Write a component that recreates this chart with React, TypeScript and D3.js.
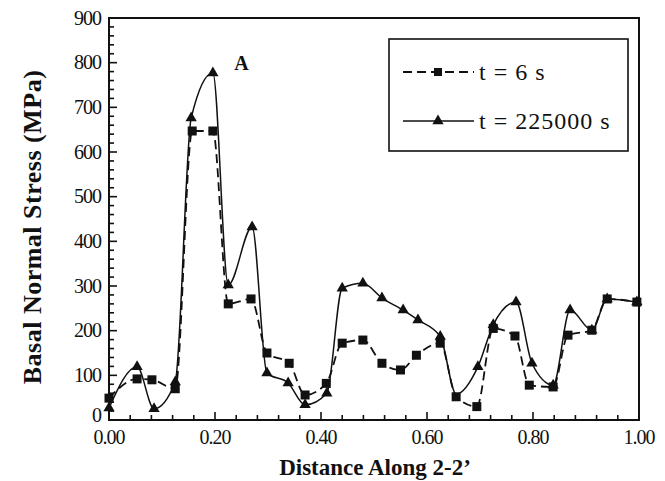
import { useRef, useEffect } from "react";
import * as d3 from "d3";

// t = 6 s (squares, dashed)
const xsShort = [0, 0.053, 0.081, 0.125, 0.157, 0.196, 0.225, 0.268, 0.298, 0.34, 0.37, 0.41, 0.44, 0.479, 0.515, 0.55, 0.58, 0.625, 0.655, 0.694, 0.725, 0.766, 0.793, 0.838, 0.866, 0.911, 0.94, 0.996];
const ysShort = [49, 92, 90, 70, 647, 647, 260, 271, 150, 127, 56, 82, 172, 179, 127, 112, 145, 172, 52, 30, 205, 188, 78, 74, 190, 201, 271, 264];

// t = 225000 s (triangles, solid)
const xsLong = [0, 0.053, 0.085, 0.125, 0.155, 0.196, 0.225, 0.27, 0.298, 0.338, 0.37, 0.411, 0.44, 0.479, 0.515, 0.555, 0.583, 0.625, 0.655, 0.696, 0.725, 0.768, 0.798, 0.838, 0.87, 0.911, 0.94, 0.996];
const ysLong = [27, 119, 25, 85, 676, 777, 302, 432, 105, 83, 34, 60, 295, 306, 273, 246, 224, 187, 58, 119, 213, 264, 127, 78, 246, 201, 271, 264];
const markLong = xsLong.map((_, i) => i !== 18); // triangle hidden under square at 0.655

const xTicks = [0, 0.2, 0.4, 0.6, 0.8, 1.0];
const yTicks = [0, 100, 200, 300, 400, 500, 600, 700, 800, 900];

const FONT = "Liberation Serif, DejaVu Serif, serif";

export default function App() {
  const svgRef = useRef<SVGSVGElement>(null);

  useEffect(() => {
    document.body.style.margin = "0";
    const W = 665, H = 481;
    const m = { top: 18, right: 26, bottom: 61, left: 109 };
    const w = W - m.left - m.right;
    const h = H - m.top - m.bottom;

    const root = d3.select(svgRef.current).attr("width", W).attr("height", H);
    root.selectAll("*").remove();
    root.append("rect").attr("width", W).attr("height", H).attr("fill", "#fff");
    const svg = root.append("g").attr("transform", `translate(${m.left},${m.top})`);

    const x = d3.scaleLinear().domain([0, 1]).range([0, w]);
    const y = d3.scaleLinear().domain([0, 900]).range([h, 0]);

    // minor + major ticks, pointing inside
    d3.range(0, 1.0001, 0.04).forEach((t) => {
      const major = xTicks.some((v) => Math.abs(v - t) < 1e-6);
      svg.append("line").attr("x1", x(t)).attr("x2", x(t))
        .attr("y1", h).attr("y2", h - (major ? 8 : 5))
        .attr("stroke", "#111").attr("stroke-width", 1.6);
    });
    d3.range(0, 901, 20).forEach((t) => {
      const major = t % 100 === 0;
      svg.append("line").attr("x1", 0).attr("x2", major ? 8 : 5)
        .attr("y1", y(t)).attr("y2", y(t))
        .attr("stroke", "#111").attr("stroke-width", 1.6);
    });

    svg.append("g")
      .selectAll("text")
      .data(xTicks)
      .join("text")
      .attr("x", (d) => x(d))
      .attr("y", h + 24)
      .attr("text-anchor", "middle")
      .style("font-family", FONT)
      .attr("font-size", 20)
      .attr("letter-spacing", -1)
      .attr("fill", "#111")
      .text((d) => d.toFixed(2));

    svg.append("g")
      .selectAll("text")
      .data(yTicks)
      .join("text")
      .attr("x", -8)
      .attr("y", (d) => y(d) - (d === 0 ? 5 : 0))
      .attr("dy", "0.33em")
      .attr("text-anchor", "end")
      .style("font-family", FONT)
      .attr("font-size", 20)
      .attr("letter-spacing", -1)
      .attr("fill", "#111")
      .text((d) => d);

    const short = xsShort.map((v, i) => ({ x: v, y: ysShort[i] }));
    const long = xsLong.map((v, i) => ({ x: v, y: ysLong[i], mark: markLong[i] }));

    const lineGen = d3.line<{ x: number; y: number }>()
      .x((d) => x(d.x)).y((d) => y(d.y))
      .curve(d3.curveMonotoneX);

    svg.append("path").datum(long).attr("d", lineGen)
      .attr("fill", "none").attr("stroke", "#111").attr("stroke-width", 1.5);
    svg.append("path").datum(short).attr("d", lineGen)
      .attr("fill", "none").attr("stroke", "#111").attr("stroke-width", 1.8)
      .attr("stroke-dasharray", "9,5");

    const tri = d3.symbol().type(d3.symbolTriangle).size(55);
    svg.append("g").selectAll("path")
      .data(long.filter((d) => d.mark))
      .join("path")
      .attr("d", tri)
      .attr("transform", (d) => `translate(${x(d.x)},${y(d.y)})`)
      .attr("fill", "#111");

    svg.append("g").selectAll("rect")
      .data(short)
      .join("rect")
      .attr("x", (d) => x(d.x) - 4.5)
      .attr("y", (d) => y(d.y) - 4.5)
      .attr("width", 9).attr("height", 9)
      .attr("fill", "#111");

    // frame
    svg.append("rect").attr("width", w).attr("height", h)
      .attr("fill", "none").attr("stroke", "#111").attr("stroke-width", 2);

    svg.append("text")
      .attr("x", x(0.25)).attr("y", y(800))
      .attr("dy", "0.35em")
      .attr("text-anchor", "middle")
      .style("font-family", FONT).attr("font-weight", "bold").attr("font-size", 20)
      .attr("fill", "#111")
      .text("A");

    // legend
    const lg = root.append("g");
    lg.append("rect").attr("x", 389).attr("y", 39).attr("width", 239).attr("height", 112)
      .attr("fill", "#fff").attr("stroke", "#111").attr("stroke-width", 1.6);
    const entries = [
      { label: "t = 6 s", dash: "9,5", cy: 72, sym: "sq" },
      { label: "t = 225000 s", dash: null, cy: 121, sym: "tri" },
    ];
    entries.forEach((e) => {
      lg.append("line").attr("x1", 403).attr("x2", 474).attr("y1", e.cy).attr("y2", e.cy)
        .attr("stroke", "#111").attr("stroke-width", e.dash ? 1.8 : 1.5)
        .attr("stroke-dasharray", e.dash);
      if (e.sym === "sq") {
        lg.append("rect").attr("x", 434).attr("y", e.cy - 4).attr("width", 8).attr("height", 8).attr("fill", "#111");
      } else {
        lg.append("path").attr("d", tri).attr("transform", `translate(438,${e.cy})`).attr("fill", "#111");
      }
      lg.append("text").attr("x", 479).attr("y", e.cy).attr("dy", "0.35em")
        .style("font-family", FONT).attr("font-size", 24)
        .attr("letter-spacing", 1).attr("fill", "#111")
        .text(e.label);
    });

    // axis titles
    root.append("text")
      .attr("x", m.left + w / 2 + 1).attr("y", 475)
      .attr("text-anchor", "middle")
      .style("font-family", FONT).attr("font-weight", "bold").attr("font-size", 23)
      .attr("fill", "#111")
      .text("Distance Along 2-2\u2019");

    root.append("text")
      .attr("transform", `translate(41,227) rotate(-90)`)
      .attr("text-anchor", "middle")
      .style("font-family", FONT).attr("font-weight", "bold").attr("font-size", 26)
      .attr("letter-spacing", 0.5)
      .attr("fill", "#111")
      .text("Basal Normal Stress (MPa)");
  }, []);

  return <svg ref={svgRef} style={{ display: "block" }} />;
}
